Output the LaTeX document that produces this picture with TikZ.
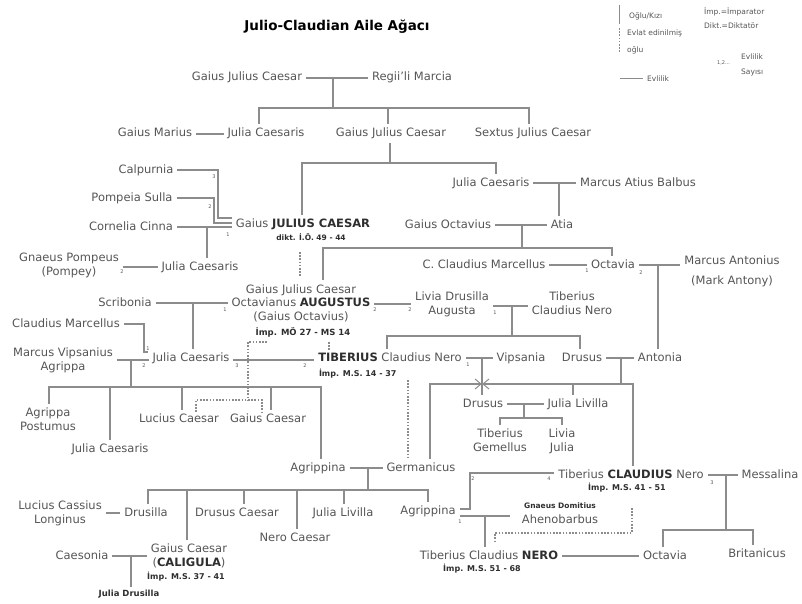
\documentclass[tikz,border=0pt]{standalone}
\usepackage{fontspec}
\setmainfont{DejaVu Sans}
\usetikzlibrary{calc}
\definecolor{txt}{HTML}{555555}
\definecolor{dark}{HTML}{2E2E2E}
\definecolor{lnc}{HTML}{8C8C8C}
\newcommand\nmf{\fontsize{11.5}{13.5}\selectfont}
\newcommand\subf{\bfseries\fontsize{8}{10}\selectfont}
\newcommand\tinyf{\fontsize{5}{6}\selectfont}
\newcommand\legf{\fontsize{7.5}{9}\selectfont}
\newcommand\bn[1]{{\color{dark}\bfseries #1}}
\tikzset{
  per/.style={font=\nmf, text=txt, inner sep=0pt, outer sep=4pt, text height=8.5pt, text depth=2.5pt, anchor=center},
  multi/.style={font=\nmf, text=txt, inner sep=0pt, outer sep=4pt, align=center, anchor=base},
  subt/.style={font=\subf, text=dark, inner sep=0pt, outer sep=3pt, anchor=center},
  ln/.style={draw=lnc, line width=1.4pt},
  ad/.style={draw=lnc, line width=1.4pt, dash pattern=on 1.6pt off 1.6pt},
  nr/.style={font=\tinyf, text=txt, inner sep=0pt},
  leg/.style={font=\legf, text=txt, inner sep=0pt, anchor=west},
}
\begin{document}
\begin{tikzpicture}[x=1pt,y=-1pt]
\useasboundingbox (0,0) rectangle (802,604);

% title
\node[font=\bfseries\fontsize{13.5}{16}\selectfont, inner sep=0pt] (title) at (337,27) {Julio-Claudian Aile Ağacı};

% legend
\draw[ln, line width=1pt] (619,5) -- (619,24);
\node[leg] (lg1) at (629,16) {Oğlu/Kızı};
\draw[ad, line width=1pt] (619,28) -- (619,52);
\node[leg] (lg2) at (627,33) {Evlat edinilmiş};
\node[leg] (lg3) at (627,50) {oğlu};
\node[leg] (lg4) at (704,12) {İmp.=İmparator};
\node[leg] (lg5) at (704,26) {Dikt.=Diktatör};
\node[nr, anchor=west] (lg6) at (717,63) {1,2...};
\node[leg] (lg7) at (741,57) {Evlilik};
\node[leg] (lg8) at (741,72) {Sayısı};
\draw[ln, line width=1pt] (620,79) -- (643,79);
\node[leg] (lg9) at (647,79) {Evlilik};

% people
\node[per] (gjc1) at (247,78) {Gaius Julius Caesar};
\node[per] (marcia) at (412,78) {Regii'li Marcia};
\node[per] (marius) at (155,134) {Gaius Marius};
\node[per] (jc1) at (266,134) {Julia Caesaris};
\node[per] (gjc2) at (391,134) {Gaius Julius Caesar};
\node[per] (sextus) at (533,134) {Sextus Julius Caesar};
\node[per] (calp) at (146,170) {Calpurnia};
\node[per] (pomp) at (132,198) {Pompeia Sulla};
\node[per] (corn) at (131,227) {Cornelia Cinna};
\node[per] (jcaesar) at (303,224) {Gaius \bn{JULIUS CAESAR}};
\node[subt, font=\bfseries\fontsize{7.5}{9}\selectfont] (jcsub) at (311,237) {dikt. İ.Ö. 49 - 44};
\node[per] (jc2) at (491,183) {Julia Caesaris};
\node[per] (balbus) at (638,183) {Marcus Atius Balbus};
\node[per] (octavius) at (448,225) {Gaius Octavius};
\node[per] (atia) at (562,225) {Atia};
\node[multi] (pompey) at (69,275) {Gnaeus Pompeus\\(Pompey)};
\node[per] (jc3) at (200,267) {Julia Caesaris};
\node[per] (marcellus) at (484,265) {C. Claudius Marcellus};
\node[per] (octavia) at (613,265) {Octavia};
\node[multi] (antonius) at (732,284) {Marcus Antonius\\[6pt](Mark Antony)};
\node[multi] (augustus) at (301,320) {Gaius Julius Caesar\\Octavianus \bn{AUGUSTUS}\\(Gaius Octavius)};
\node[subt, font=\bfseries\fontsize{8.5}{10}\selectfont] (augsub) at (303,332) {İmp. MÖ 27 - MS 14};
\node[per] (scribonia) at (125,303) {Scribonia};
\node[multi] (livia) at (452,314) {Livia Drusilla\\Augusta};
\node[multi] (tcn) at (572,314) {Tiberius\\Claudius Nero};
\node[per] (cmarc) at (66,324) {Claudius Marcellus};
\node[multi] (agrippa) at (63,370) {Marcus Vipsanius\\Agrippa};
\node[per] (jc4) at (191,358) {Julia Caesaris};
\node[per] (tiberius) at (390,358) {\bn{TIBERIUS} Claudius Nero};
\node[subt, anchor=west] (tibsub) at (316,374) {İmp. M.S. 14 - 37};
\node[per] (vipsania) at (521,358) {Vipsania};
\node[per] (drusus1) at (582,358) {Drusus};
\node[per] (antonia) at (660,358) {Antonia};
\node[per] (drusus2) at (483,404) {Drusus};
\node[per] (livilla1) at (578,404) {Julia Livilla};
\node[multi] (gemellus) at (500,451) {Tiberius\\Gemellus};
\node[multi] (livia2) at (562,451) {Livia\\Julia};
\node[multi] (postumus) at (48,430) {Agrippa\\Postumus};
\node[per] (lucius) at (179,419) {Lucius Caesar};
\node[per] (gaius) at (268,419) {Gaius Caesar};
\node[per] (jc5) at (110,449) {Julia Caesaris};
\node[per] (agrippina1) at (318,468) {Agrippina};
\node[per] (germanicus) at (421,468) {Germanicus};
\node[multi] (longinus) at (60,523) {Lucius Cassius\\Longinus};
\node[per] (drusilla) at (146,513) {Drusilla};
\node[per] (drususc) at (237,513) {Drusus Caesar};
\node[per] (livilla2) at (343,513) {Julia Livilla};
\node[per] (neroc) at (295,538) {Nero Caesar};
\node[per] (agrippina2) at (428,511) {Agrippina};
\node[multi] (caligula) at (189,566) {Gaius Caesar\\(\bn{CALIGULA})};
\node[subt] (calsub) at (186,577) {İmp. M.S. 37 - 41};
\node[per] (caesonia) at (82,556) {Caesonia};
\node[subt, font=\bfseries\fontsize{8.5}{10}\selectfont] (jdrusilla) at (129,594) {Julia Drusilla};
\node[per] (claudius) at (631,475) {Tiberius \bn{CLAUDIUS} Nero};
\node[subt] (clsub) at (627,488) {İmp. M.S. 41 - 51};
\node[per] (messalina) at (770,475) {Messalina};
\node[multi] (gnaeus) at (560,523) {{\color{dark}\bfseries\fontsize{7.5}{9}\selectfont Gnaeus Domitius}\\[1.5pt]Ahenobarbus};
\node[per] (nero) at (489,556) {Tiberius Claudius \bn{NERO}};
\node[subt] (nerosub) at (482,569) {İmp. M.S. 51 - 68};
\node[per] (octavia2) at (665,556) {Octavia};
\node[per] (britanicus) at (757,554) {Britanicus};

% ---- connectors ----
% top couple
\draw[ln] (gjc1.east) -- (marcia.west);
\draw[ln] (333,78) -- (333,108);
\draw[ln] (259,0 |- jc1.north) -- (259,108) -- (529,108) -- (529,0 |- sextus.north);
\draw[ln] (388,108) -- (388,0 |- gjc2.north);
\draw[ln] (marius.east) -- (jc1.west);
% Gaius Julius Caesar + Aurelia children
\draw[ln] (390,0 |- gjc2.south) -- (390,163);
\draw[ln] (302,0 |- jcaesar.north) -- (302,163) -- (496,163) -- (496,0 |- jc2.north);
% wives of Julius Caesar
\draw[ln] (calp.east) -| (218,218) -- (jcaesar.west |- 0,218);
\draw[ln] (pomp.east) -| (214,223) -- (jcaesar.west |- 0,223);
\draw[ln] (corn.east) -- (jcaesar.west |- corn.east);
\node[nr] (n3a) at (214,177) {3};
\node[nr] (n2a) at (210,207) {2};
\node[nr] (n1a) at (228,235) {1};
\draw[ln] (207,0 |- corn.east) -- (207,0 |- jc3.north);
\draw[ln] (pompey.east |- jc3.west) -- (jc3.west);
\node[nr] (n2b) at (122,272) {2};
% Balbus line
\draw[ln] (jc2.east) -- (balbus.west);
\draw[ln] (559,183) -- (559,0 |- atia.north);
\draw[ln] (octavius.east) -- (atia.west);
\draw[ln] (522,225) -- (522,248);
\draw[ln] (323,0 |- augustus.north) -- (323,248) -- (612,248) -- (612,0 |- octavia.north);
% Octavia
\draw[ln] (marcellus.east) -- (octavia.west);
\node[nr] (n1b) at (587,271) {1};
\draw[ln] (octavia.east) -- (antonius.west |- octavia.east);
\node[nr] (n2c) at (641,273) {2};
\draw[ln] (658,265) -- (658,0 |- antonia.north);
% adoption Julius Caesar -> Augustus
\draw[ad] (300,252) -- (300,277);
% Augustus marriages
\draw[ln] (scribonia.east) -- (augustus.west |- scribonia.east);
\node[nr] (n1c) at (225,310) {1};
\draw[ln] (193,0 |- scribonia.east) -- (193,0 |- jc4.north);
\draw[ln] (augustus.east |- 0,304) -- (livia.west |- 0,304);
\node[nr] (n2d) at (375,310) {2};
\node[nr] (n2e) at (410,310) {2};
% Livia + Tiberius Claudius Nero
\draw[ln] (livia.east |- 0,306) -- (tcn.west |- 0,306);
\node[nr] (n1d) at (495,313) {1};
\draw[ln] (512,306) -- (512,336);
\draw[ln] (387,0 |- tiberius.north) -- (387,336) -- (580,336) -- (580,0 |- drusus1.north);
% Julia (daughter of Augustus)
\draw[ln] (cmarc.east) -| (144,352) -- (148,352);
\node[nr] (n1e) at (148,349) {1};
\draw[ln] (agrippa.east |- 0,360) -- (jc4.west |- 0,360);
\node[nr] (n2f) at (144,366) {2};
\draw[ln] (131,360) -- (131,387);
\draw[ln] (49,0 |- postumus.north) -- (49,387) -- (321,387) -- (321,0 |- agrippina1.north);
\draw[ln] (110,387) -- (110,0 |- jc5.north);
\draw[ln] (182,387) -- (182,0 |- lucius.north);
\draw[ln] (271,387) -- (271,0 |- gaius.north);
\draw[ln] (jc4.east |- 0,360) -- (tiberius.west |- 0,360);
\node[nr] (n3b) at (237,366) {3};
\node[nr] (n2g) at (305,366) {2};
% adoptions by Augustus
\draw[ad] (267,342) -- (248,342) -- (248,400);
\draw[ad] (196,412) -- (196,400) -- (262,400) -- (262,412);
\draw[ad] (329,342) -- (329,350);
% Tiberius + Vipsania
\draw[ln] (tiberius.east) -- (vipsania.west);
\node[nr] (n1f) at (468,365) {1};
\draw[ln] (482,358) -- (482,0 |- drusus2.north);
% Drusus + Antonia
\draw[ln] (drusus1.east) -- (antonia.west);
\draw[ln] (621,358) -- (621,384);
\draw[ln] (430,0 |- germanicus.north) -- (430,384) -- (633,384) -- (633,0 |- claudius.north);
\draw[ln] (573,384) -- (573,0 |- livilla1.north);
\draw[ln, line width=1pt] (475,379) -- (481,384) -- (475,389);
\draw[ln, line width=1pt] (489,379) -- (483,384) -- (489,389);
% Drusus + Livilla
\draw[ln] (drusus2.east) -- (livilla1.west);
\draw[ln] (524,404) -- (524,418);
\draw[ln] (500,0 |- gemellus.north) -- (500,418) -- (562,418) -- (562,0 |- livia2.north);
% adoption Tiberius -> Germanicus
\draw[ad] (408,380) -- (408,458);
% Agrippina + Germanicus
\draw[ln] (agrippina1.east) -- (germanicus.west);
\draw[ln] (368,468) -- (368,490);
\draw[ln] (148,0 |- drusilla.north) -- (148,490) -- (428,490) -- (428,0 |- agrippina2.north);
\draw[ln] (187,490) -- (187,0 |- caligula.north);
\draw[ln] (244,490) -- (244,0 |- drususc.north);
\draw[ln] (297,490) -- (297,0 |- neroc.north);
\draw[ln] (344,490) -- (344,0 |- livilla2.north);
\draw[ln] (longinus.east |- drusilla.west) -- (drusilla.west);
\draw[ln] (caesonia.east) -- (caligula.west |- caesonia.east);
\draw[ln] (131,556) -- (131,0 |- jdrusilla.north);
% Agrippina the younger
\draw[ln] (agrippina2.east |- 0,509) -| (470,473) -- (claudius.west |- 0,473);
\node[nr] (n2h) at (473,479) {2};
\node[nr] (n4a) at (549,479) {4};
\draw[ln] (agrippina2.east |- 0,516) -- (510,516);
\node[nr] (n1g) at (460,522) {1};
\draw[ln] (485,516) -- (485,0 |- nero.north);
% Claudius + Messalina
\draw[ln] (claudius.east) -- (messalina.west);
\node[nr] (n3c) at (712,483) {3};
\draw[ln] (726,475) -- (726,530);
\draw[ln] (663,0 |- octavia2.north) -- (663,530) -- (753,530) -- (753,0 |- britanicus.north);
% Nero + Octavia
\draw[ln] (nero.east) -- (octavia2.west);
% adoption Claudius -> Nero
\draw[ad] (632,508) -- (632,533) -- (495,533) -- (495,541);
\end{tikzpicture}
\end{document}
